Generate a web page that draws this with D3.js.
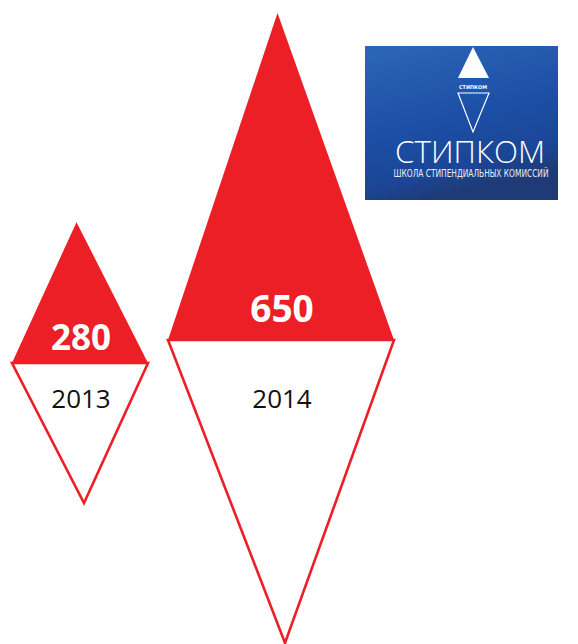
<!DOCTYPE html>
<html><head><meta charset="utf-8">
<script src="https://cdn.jsdelivr.net/npm/d3@7"></script>
<style>body{margin:0;background:#fff}svg{display:block}</style>
</head><body>
<script>
const years = ["2013", "2014"];
const values = [280, 650];
const logoTitle = "СТИПКОМ";
const logoSubtitle = "ШКОЛА СТИПЕНДИАЛЬНЫХ КОМИССИЙ";

const W = 578, H = 644;
const red = "#ED1F26";
const svg = d3.select("body").append("svg").attr("width", W).attr("height", H);

const x = d3.scalePoint().domain(years).range([80, 281]);
const hTop = d3.scaleLinear().domain([0, 650]).range([0, 327]);
const width = d3.scaleLinear().domain([280, 650]).range([136, 226]);
const baseY = d3.scaleLinear().domain([280, 650]).range([363, 340]);
const depth = d3.scaleLinear().domain([280, 650]).range([140, 303]);

const data = years.map((y, i) => ({ year: y, value: values[i] }));

const g = svg.selectAll("g.kite").data(data).enter().append("g").attr("class", "kite");

// bottom (white) triangle
g.append("path")
  .attr("d", d => {
    const cx = x(d.year), by = baseY(d.value), hw = width(d.value) / 2;
    return `M${cx - hw},${by} L${cx + hw},${by} L${cx + 4},${by + depth(d.value)} Z`;
  })
  .attr("fill", "#fff").attr("stroke", red).attr("stroke-width", 2.6)
  .attr("stroke-linejoin", "miter");

// top (red) triangle
g.append("path")
  .attr("d", d => {
    const cx = x(d.year), by = baseY(d.value), hw = width(d.value) / 2;
    return `M${cx - hw},${by} L${cx + hw},${by} L${cx - 3.5},${by - hTop(d.value)} Z`;
  })
  .attr("fill", red);

// values
g.append("text")
  .attr("x", d => x(d.year) + 1)
  .attr("y", d => baseY(d.value) - 13 - (d.value > 500 ? 5 : 0))
  .attr("text-anchor", "middle")
  .attr("font-family", "'Open Sans', sans-serif")
  .attr("font-weight", "bold")
  .attr("font-size", d => d.value > 500 ? 37 : 35)
  .attr("fill", "#fff")
  .text(d => d.value);

// years
g.append("text")
  .attr("x", d => x(d.year) + 1)
  .attr("y", 408)
  .attr("text-anchor", "middle")
  .attr("font-family", "'Open Sans', sans-serif")
  .attr("font-size", 26)
  .attr("fill", "#111")
  .text(d => d.year);

// logo
const defs = svg.append("defs");
const grad = defs.append("linearGradient").attr("id", "lg")
  .attr("x1", "0").attr("y1", "0").attr("x2", "0.3").attr("y2", "1");
grad.append("stop").attr("offset", "0").attr("stop-color", "#2d66b8");
grad.append("stop").attr("offset", "0.55").attr("stop-color", "#1c4fa6");
grad.append("stop").attr("offset", "0.85").attr("stop-color", "#1b4697");
grad.append("stop").attr("offset", "1").attr("stop-color", "#1e3b78");

const logo = svg.append("g").attr("transform", "translate(365,46)");
logo.append("rect").attr("width", 193).attr("height", 154).attr("fill", "url(#lg)");
logo.append("path").attr("d", "M108,1 L124,32 L93,32 Z").attr("fill", "#fff");
logo.append("text").attr("x", 108).attr("y", 43).attr("text-anchor", "middle")
  .attr("font-family", "'DejaVu Sans Condensed', sans-serif").attr("font-size", 5)
  .attr("font-weight", "bold").attr("fill", "#fff")
  .attr("textLength", 28).attr("lengthAdjust", "spacingAndGlyphs").text(logoTitle);
logo.append("path").attr("d", "M93,47 L124,47 L108,86 Z").attr("fill", "none")
  .attr("stroke", "#fff").attr("stroke-width", 1.2);
logo.append("text").attr("x", 105).attr("y", 117).attr("text-anchor", "middle")
  .attr("font-family", "'Open Sans', sans-serif").attr("font-weight", 300)
  .attr("font-size", 32).attr("fill", "#fff")
  .attr("textLength", 150).attr("lengthAdjust", "spacingAndGlyphs").text(logoTitle);
logo.append("text").attr("transform", "translate(106,131) scale(1,1.25)")
  .attr("text-anchor", "middle")
  .attr("font-family", "'DejaVu Sans Condensed', sans-serif")
  .attr("font-size", 8.5).attr("fill", "#e8eef8")
  .attr("textLength", 155).attr("lengthAdjust", "spacingAndGlyphs").text(logoSubtitle);
</script>
</body></html>
